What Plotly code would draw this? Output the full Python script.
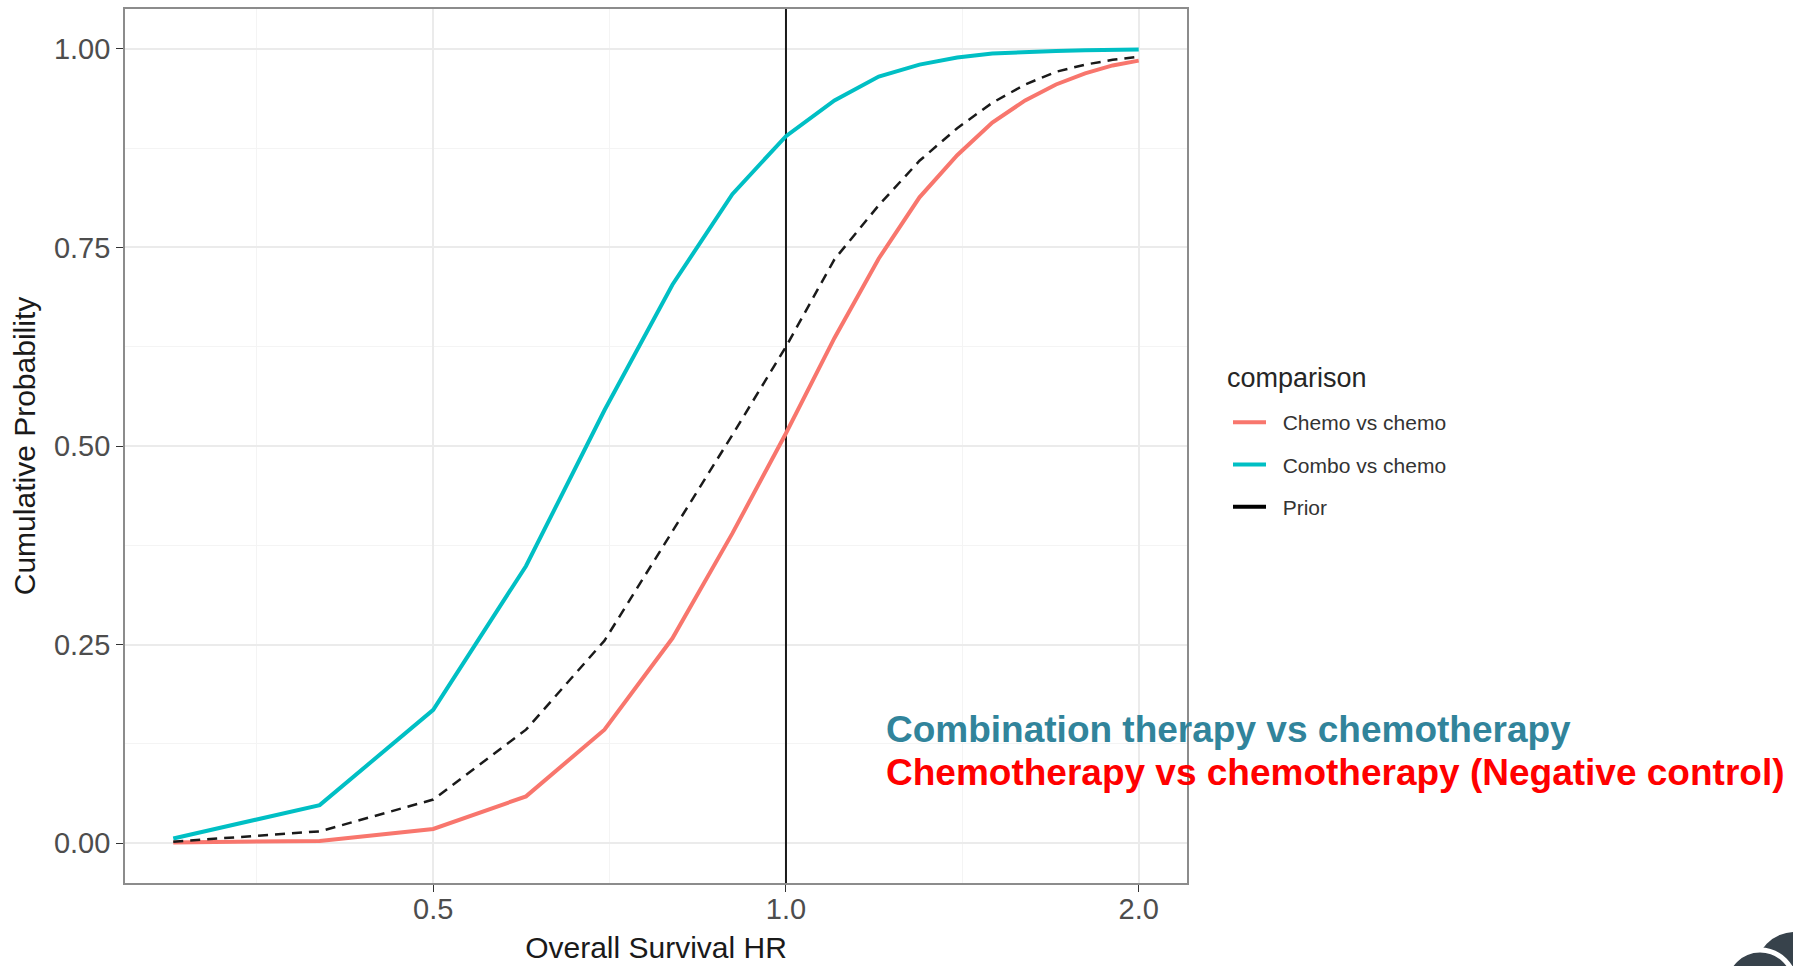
import numpy as np
import plotly.graph_objects as go

# ---------------- data ----------------
hr = [0.3, 0.4, 0.5, 0.6, 0.7, 0.8, 0.9, 1.0, 1.1, 1.2, 1.3, 1.4, 1.5, 1.6, 1.7, 1.8, 1.9, 2.0]
chemo_vs_chemo = [0.001, 0.003, 0.018, 0.059, 0.143, 0.258, 0.390, 0.516, 0.636, 0.736, 0.813,
                  0.866, 0.907, 0.935, 0.955, 0.969, 0.979, 0.985]
combo_vs_chemo = [0.006, 0.048, 0.168, 0.349, 0.545, 0.703, 0.817, 0.890, 0.935, 0.965, 0.980,
                  0.989, 0.994, 0.996, 0.997, 0.998, 0.999, 0.999]
prior = [0.002, 0.015, 0.055, 0.143, 0.255, 0.392, 0.514, 0.625, 0.735, 0.803, 0.859,
         0.900, 0.932, 0.955, 0.971, 0.980, 0.986, 0.990]

x_tick_vals = [0.5, 1.0, 2.0]
x_tick_text = ["0.5", "1.0", "2.0"]
y_tick_vals = [0.0, 0.25, 0.5, 0.75, 1.0]
y_tick_text = ["0.00", "0.25", "0.50", "0.75", "1.00"]
reference_hr = 1.0

legend_title = "comparison"
legend_names = ["Chemo vs chemo", "Combo vs chemo", "Prior"]
colors = ["#F8766D", "#00BFC4", "#000000"]

annot_line1 = "Combination therapy vs chemotherapy"
annot_line2 = "Chemotherapy vs chemotherapy (Negative control)"

# ---------------- layout geometry (pixels) ----------------
W, H = 1793, 966
ML, MR, MT, MB = 125, 606, 9, 83
PW, PH = W - ML - MR, H - MT - MB


def px(x):
    return (x - ML) / PW


def py(y):
    return (H - MB - y) / PH


FONT = "Liberation Sans, Arial, sans-serif"
PAD = "\u00a0\u00a0"

fig = go.Figure()

# vertical reference line at HR = 1
fig.add_trace(go.Scatter(x=[reference_hr, reference_hr], y=[-0.2, 1.2], mode="lines",
                         line=dict(color="#1a1a1a", width=2), showlegend=False, hoverinfo="skip"))

fig.add_trace(go.Scatter(x=hr, y=chemo_vs_chemo, mode="lines", name=PAD + legend_names[0],
                         legendgroup="a", line=dict(color=colors[0], width=4)))
fig.add_trace(go.Scatter(x=hr, y=combo_vs_chemo, mode="lines", name=PAD + legend_names[1],
                         legendgroup="b", line=dict(color=colors[1], width=4)))
fig.add_trace(go.Scatter(x=hr, y=prior, mode="lines", name=legend_names[2], showlegend=False,
                         line=dict(color="#1a1a1a", width=2.5, dash="10px,7px")))
# legend key for the prior (solid key as in the reference legend)
fig.add_trace(go.Scatter(x=[None], y=[None], mode="lines", name=PAD + legend_names[2],
                         legendgroup="c", line=dict(color=colors[2], width=4)))

lx = np.log10(hr)
w = lx.max() - lx.min()
x_range = [lx.min() - 0.05 * w, lx.max() + 0.05 * w]

minor_x = [np.sqrt(a * b) for a, b in zip([0.25] + x_tick_vals[:-1], x_tick_vals)]
minor_x.append(np.sqrt(x_tick_vals[-1] * 4.0))
minor_y = [(a + b) / 2 for a, b in zip(y_tick_vals[:-1], y_tick_vals[1:])]

grid_major = "#EBEBEB"
grid_minor = "#F4F4F4"
frame = "#8C8C8C"

fig.update_xaxes(
    type="log", range=x_range, tickmode="array", tickvals=x_tick_vals, ticktext=x_tick_text,
    showgrid=True, gridcolor=grid_major, gridwidth=1.6,
    minor=dict(tickmode="array", tickvals=minor_x, showgrid=True, gridcolor=grid_minor,
               gridwidth=1, ticks=""),
    showline=True, mirror=True, linecolor=frame, linewidth=1.6,
    ticks="outside", ticklen=7, tickwidth=1.2, tickcolor="#333333",
    ticklabelstandoff=-8,
    tickfont=dict(family=FONT, size=29, color="#4D4D4D"),
    zeroline=False,
    title=dict(text="Overall Survival HR", font=dict(family=FONT, size=30, color="#1a1a1a"),
               standoff=13),
)
fig.update_yaxes(
    range=[-0.05, 1.05], tickmode="array", tickvals=y_tick_vals, ticktext=y_tick_text,
    showgrid=True, gridcolor=grid_major, gridwidth=1.6,
    minor=dict(tickmode="array", tickvals=minor_y, showgrid=True, gridcolor=grid_minor,
               gridwidth=1, ticks=""),
    showline=True, mirror=True, linecolor=frame, linewidth=1.6,
    ticks="outside", ticklen=7, tickwidth=1.2, tickcolor="#333333",
    ticklabelstandoff=0,
    tickfont=dict(family=FONT, size=29, color="#4D4D4D"),
    zeroline=False,
    title=dict(text="Cumulative Probability", font=dict(family=FONT, size=30, color="#1a1a1a"),
               standoff=9),
)

fig.add_annotation(xref="paper", yref="paper", x=px(884), y=py(729), xanchor="left",
                   yanchor="middle", showarrow=False, text="<b>" + annot_line1 + "</b>",
                   font=dict(family=FONT, size=37, color="#31849B"))
fig.add_annotation(xref="paper", yref="paper", x=px(884), y=py(772), xanchor="left",
                   yanchor="middle", showarrow=False, text="<b>" + annot_line2 + "</b>",
                   font=dict(family=FONT, size=37, color="#FF0000"))
# legend title
fig.add_annotation(xref="paper", yref="paper", x=px(1225), y=py(378), xanchor="left",
                   yanchor="middle", showarrow=False, text=legend_title,
                   font=dict(family=FONT, size=27, color="#262626"))

# partial logo in the bottom-right corner
fig.add_shape(type="circle", xref="paper", yref="paper",
              x0=px(1755), x1=px(1835), y0=py(1012), y1=py(932),
              fillcolor="#37424B", line=dict(width=0), layer="above")
fig.add_shape(type="circle", xref="paper", yref="paper",
              x0=px(1725), x1=px(1795), y0=py(1020), y1=py(950),
              fillcolor="#37424B", line=dict(width=5, color="white"), layer="above")

fig.update_layout(
    width=W, height=H,
    margin=dict(l=ML, r=MR, t=MT, b=MB, autoexpand=False),
    plot_bgcolor="white", paper_bgcolor="white",
    font=dict(family=FONT),
    legend=dict(xref="container", yref="container", x=1228 / W, y=1 - 402 / H,
                xanchor="left", yanchor="top",
                font=dict(family=FONT, size=21, color="#333333"),
                tracegroupgap=12, itemwidth=33, bgcolor="rgba(0,0,0,0)"),
    showlegend=True,
)

fig.write_html("out.html", config={"displayModeBar": False},
               post_script="document.body.style.margin='0';document.body.style.overflow='hidden';")
